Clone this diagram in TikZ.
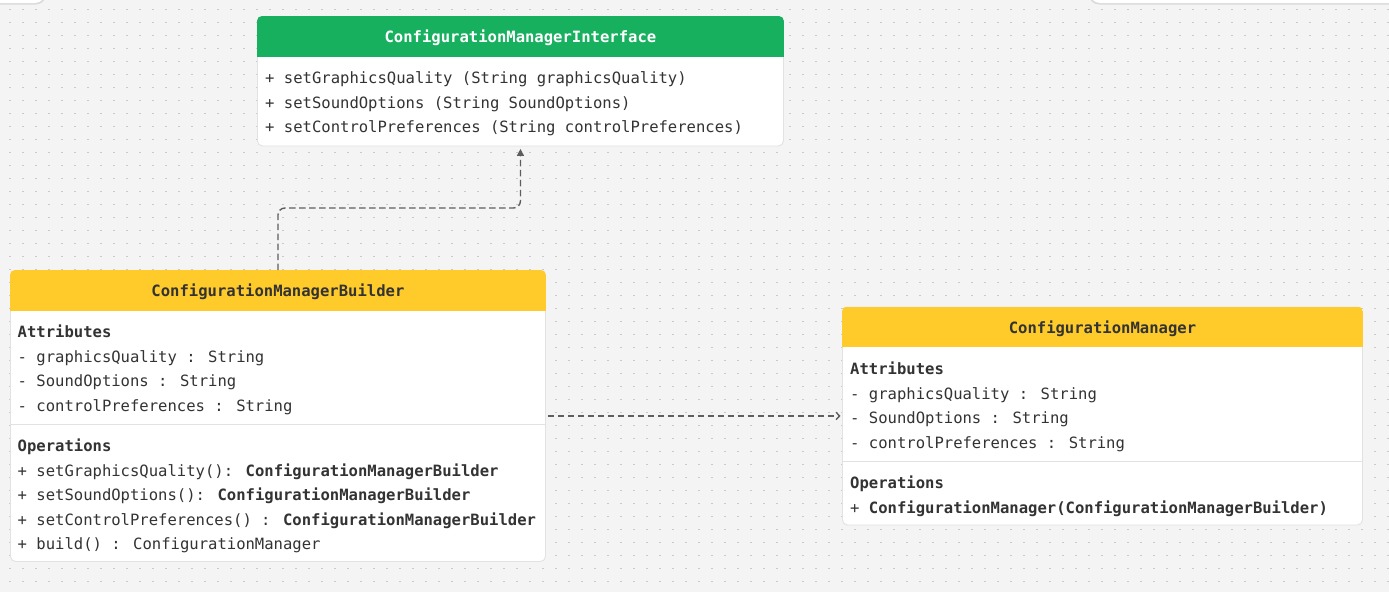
\documentclass[tikz,border=0pt]{standalone}
\usepackage{fontspec}
\setmainfont{DejaVu Sans Mono}
\setmonofont{DejaVu Sans Mono}
\usetikzlibrary{arrows.meta}
\definecolor{bgc}{HTML}{F4F4F4}
\definecolor{dotc}{HTML}{C9C9C9}
\definecolor{grn}{HTML}{17B05E}
\definecolor{ylw}{HTML}{FFCB2A}
\definecolor{bord}{HTML}{E2E2E2}
\definecolor{shad}{HTML}{DADADA}
\definecolor{txt}{HTML}{333333}
\definecolor{conc}{HTML}{5E5E5E}
\begin{document}
\begin{tikzpicture}[x=1pt,y=-1pt,
  classbox/.style={draw=bord, line width=0.9pt, fill=white, rounded corners=5pt, inner sep=0pt, anchor=north west},
  ln/.style={anchor=base west, inner sep=0pt, text=txt, font=\fontsize{15.56pt}{18pt}\selectfont},
  ttl/.style={anchor=base, inner sep=0pt, font=\fontsize{15.56pt}{18pt}\selectfont\bfseries},
  conn/.style={draw=conc, line width=1.4pt, dash pattern=on 6.5pt off 3.5pt},
  sepline/.style={draw=bord, line width=1pt}]

\useasboundingbox (0,0) rectangle (1389,592);
\fill[bgc] (0,0) rectangle (1389,592);
\foreach \j in {0,...,44}
  \draw[dotc, line width=1.6pt, dash pattern=on 1.6pt off 11.4pt] (9.2,{9.5+13*\j}) -- (1389,{9.5+13*\j});

% cut-off panels at the top
\fill[shad, rounded corners=10pt] (-30,-30) rectangle (46,4.5);
\fill[white, rounded corners=10pt] (-30,-30) rectangle (45,3);
\fill[shad, rounded corners=10pt] (1089,-30) rectangle (1420,4.5);
\fill[white, rounded corners=10pt] (1090,-30) rectangle (1420,3);

% class boxes
\node[classbox, minimum width=526pt, minimum height=129.5pt] (iface) at (257,16) {};
\node[classbox, minimum width=535pt, minimum height=291pt] (builder) at (10,270) {};
\node[classbox, minimum width=520pt, minimum height=218pt] (manager) at (842,306.5) {};

% headers
\begin{scope}
  \clip[rounded corners=5pt] (iface.north west) rectangle (iface.south east);
  \fill[grn] (iface.north west) rectangle ([yshift=-40.7pt]iface.north east);
\end{scope}
\begin{scope}
  \clip[rounded corners=5pt] (builder.north west) rectangle (builder.south east);
  \fill[ylw] (builder.north west) rectangle ([yshift=-40.7pt]builder.north east);
\end{scope}
\begin{scope}
  \clip[rounded corners=5pt] (manager.north west) rectangle (manager.south east);
  \fill[ylw] (manager.north west) rectangle ([yshift=-40.7pt]manager.north east);
\end{scope}

% titles
\node[ttl, text=white] (ifaceT) at ([yshift=-26.5pt]iface.north) {ConfigurationManagerInterface};
\node[ttl, text=txt] (builderT) at ([yshift=-26.5pt]builder.north) {ConfigurationManagerBuilder};
\node[ttl, text=txt] (managerT) at ([yshift=-26.5pt]manager.north) {ConfigurationManager};

% interface body
\node[ln] (i1) at (265,83.5) {+ setGraphicsQuality (String graphicsQuality)};
\node[ln] (i2) at (265,108) {+ setSoundOptions (String SoundOptions)};
\node[ln] (i3) at (265,132.5) {+ setControlPreferences (String controlPreferences)};

% builder body
\node[ln] (bA) at (17.5,337.5) {\bfseries Attributes};
\node[ln] (b1) at (17.5,362) {- graphicsQuality : String};
\node[ln] (b2) at (17.5,386.5) {- SoundOptions : String};
\node[ln] (b3) at (17.5,411) {- controlPreferences : String};
\draw[sepline] (builder.west |- 0,424) -- (builder.east |- 0,424);
\node[ln] (bO) at (17.5,451.5) {\bfseries Operations};
\node[ln] (b4) at (17.5,476) {+ setGraphicsQuality(): \textbf{ConfigurationManagerBuilder}};
\node[ln] (b5) at (17.5,500.5) {+ setSoundOptions(): \textbf{ConfigurationManagerBuilder}};
\node[ln] (b6) at (17.5,525) {+ setControlPreferences() : \textbf{ConfigurationManagerBuilder}};
\node[ln] (b7) at (17.5,549.5) {+ build() : ConfigurationManager};

% manager body
\node[ln] (mA) at (850,374.5) {\bfseries Attributes};
\node[ln] (m1) at (850,399) {- graphicsQuality : String};
\node[ln] (m2) at (850,423.5) {- SoundOptions : String};
\node[ln] (m3) at (850,448) {- controlPreferences : String};
\draw[sepline] (manager.west |- 0,461) -- (manager.east |- 0,461);
\node[ln] (mO) at (850,488.5) {\bfseries Operations};
\node[ln] (m4) at (850,513) {+ \textbf{ConfigurationManager(ConfigurationManagerBuilder)}};

% connectors
\draw[conn, rounded corners=7pt, -{Triangle[length=7pt,width=7pt]}, shorten >=2.5pt]
  (builder.north) -- ([yshift=62pt]builder.north) -| (iface.south);
\draw[conn, -{Straight Barb[length=3.5pt,width=7.5pt]}, shorten <=2pt, shorten >=1.5pt]
  (builder.east) -- (manager.west);
\end{tikzpicture}
\end{document}
